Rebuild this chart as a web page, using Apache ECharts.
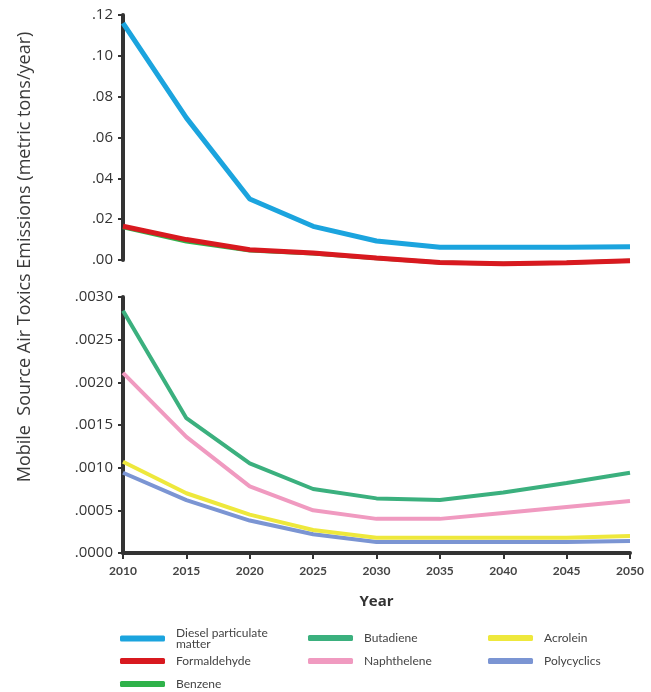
<!DOCTYPE html>
<html><head><meta charset="utf-8">
<script src="https://cdn.jsdelivr.net/npm/echarts@6/dist/echarts.min.js"></script>
<style>html,body{margin:0;padding:0;background:#fff}#c{width:651px;height:692px}</style>
</head><body><div id="c"></div>
<script>
const years = [2010, 2015, 2020, 2025, 2030, 2035, 2040, 2045, 2050];
// top panel (metric tons/year)
const diesel = [0.116, 0.0696, 0.0299, 0.0165, 0.0093, 0.0062, 0.0062, 0.0063, 0.0065];
const formaldehyde = [0.0165, 0.0100, 0.0050, 0.0034, 0.0010, -0.0012, -0.0018, -0.0014, -0.0004];
const benzene = [0.0160, 0.0090, 0.0046, 0.0032, 0.0009, -0.0012, -0.0018, -0.0014, -0.0004];
// bottom panel
const butadiene = [0.00284, 0.00158, 0.00105, 0.00075, 0.00064, 0.00062, 0.00071, 0.00082, 0.00094];
const naphthalene = [0.00211, 0.00136, 0.00078, 0.00050, 0.00040, 0.00040, 0.00047, 0.00054, 0.00061];
const acrolein = [0.00107, 0.00070, 0.00045, 0.00027, 0.00018, 0.00018, 0.00018, 0.00018, 0.00020];
const polycyclics = [0.00094, 0.00062, 0.00038, 0.00022, 0.00013, 0.00013, 0.00013, 0.00013, 0.00014];
const topTicks = ['.00', '.02', '.04', '.06', '.08', '.10', '.12'];
const bottomTicks = ['.0000', '.0005', '.0010', '.0015', '.0020', '.0025', '.0030'];

const colors = {
  'Diesel particulate\nmatter': '#1ba4de',
  'Formaldehyde': '#d8191f',
  'Benzene': '#2fb24a',
  'Butadiene': '#3bb07e',
  'Naphthelene': '#f09ac0',
  'Acrolein': '#eee83c',
  'Polycyclics': '#7b95d3'
};
const pair = arr => arr.map((v, i) => [years[i], v]);
const FONT = 'Open Sans';
const axisCol = '#333';

function mkSeries(name, arr, gi, w) {
  return { name, type: 'line', xAxisIndex: gi, yAxisIndex: gi, data: pair(arr),
    showSymbol: false, clip: false, lineStyle: { width: w, color: colors[name] },
    itemStyle: { color: colors[name] } };
}

const legendPos = [
  ['Diesel particulate\nmatter', 120, 627],
  ['Formaldehyde', 120, 655],
  ['Benzene', 120, 678],
  ['Butadiene', 308, 632],
  ['Naphthelene', 308, 655],
  ['Acrolein', 488, 632],
  ['Polycyclics', 488, 655]
];

const chart = echarts.init(document.getElementById('c'));
chart.setOption({
  animation: false,
  backgroundColor: '#fff',
  grid: [
    { left: 123, right: 21, top: 15, height: 245 },
    { left: 123, right: 21, top: 297, height: 256 }
  ],
  xAxis: [
    { type: 'value', gridIndex: 0, min: 2010, max: 2050, interval: 5, show: false },
    { type: 'value', gridIndex: 1, min: 2010, max: 2050, interval: 5,
      name: 'Year', nameLocation: 'middle', nameGap: 41,
      nameTextStyle: { fontFamily: FONT, fontSize: 15, fontWeight: 'bold', color: '#333' },
      axisLine: { lineStyle: { color: axisCol, width: 4 } },
      axisTick: { length: 6, lineStyle: { color: axisCol, width: 2 } },
      splitLine: { show: false },
      axisLabel: { fontFamily: 'Lato', fontSize: 12, fontWeight: 'bold', color: '#444', margin: 12,
        formatter: v => String(v) } }
  ],
  yAxis: [
    { type: 'value', gridIndex: 0, min: 0, max: 0.12, interval: 0.02,
      axisLine: { show: true, lineStyle: { color: axisCol, width: 4 } },
      axisTick: { show: true, length: 5, lineStyle: { color: axisCol, width: 2 } },
      splitLine: { show: false },
      axisLabel: { fontFamily: FONT, fontSize: 15, color: '#333', margin: 10,
        formatter: v => topTicks[Math.round(v / 0.02)] } },
    { type: 'value', gridIndex: 1, min: 0, max: 0.003, interval: 0.0005,
      axisLine: { show: true, lineStyle: { color: axisCol, width: 4 } },
      axisTick: { show: true, length: 5, lineStyle: { color: axisCol, width: 2 } },
      splitLine: { show: false },
      axisLabel: { fontFamily: FONT, fontSize: 15, color: '#333', margin: 10,
        formatter: v => bottomTicks[Math.round(v / 0.0005)] } }
  ],
  legend: legendPos.map(([name, x, y]) => ({
    data: [name], left: x, top: y, orient: 'horizontal', icon: 'roundRect',
    itemWidth: 45, itemHeight: 6, itemGap: 10, selectedMode: false,
    textStyle: { fontFamily: 'Lato', fontSize: 12, color: '#444', lineHeight: 11, padding: [0, 0, 0, 6] },
    padding: 0
  })),
  graphic: [
    { type: 'text', x: 25, y: 257, rotation: Math.PI / 2,
      style: { text: 'Mobile  Source Air Toxics Emissions (metric tons/year)',
        fontFamily: FONT, fontSize: 18, fill: '#3a3a3a', textAlign: 'center', textVerticalAlign: 'middle' } }
  ],
  series: [
    mkSeries('Benzene', benzene, 0, 4),
    mkSeries('Formaldehyde', formaldehyde, 0, 5),
    mkSeries('Diesel particulate\nmatter', diesel, 0, 5),
    mkSeries('Polycyclics', polycyclics, 1, 4),
    mkSeries('Acrolein', acrolein, 1, 4),
    mkSeries('Naphthelene', naphthalene, 1, 4),
    mkSeries('Butadiene', butadiene, 1, 4)
  ]
});
</script></body></html>
